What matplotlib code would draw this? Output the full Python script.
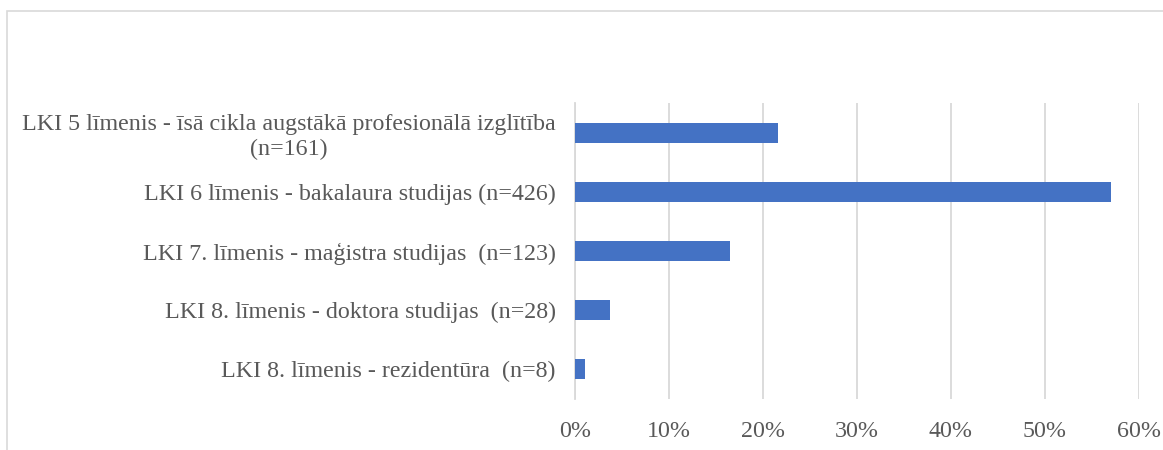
import matplotlib
matplotlib.use("Agg")
import matplotlib.pyplot as plt
from matplotlib.patches import Rectangle
from matplotlib.ticker import PercentFormatter

categories = [
    "LKI 5 līmenis - īsā cikla augstākā profesionālā izglītība\n(n=161)",
    "LKI 6 līmenis - bakalaura studijas (n=426)",
    "LKI 7. līmenis - maģistra studijas  (n=123)",
    "LKI 8. līmenis - doktora studijas  (n=28)",
    "LKI 8. līmenis - rezidentūra  (n=8)",
]
values = [0.216, 0.571, 0.165, 0.0375, 0.0107]
xticks = [0, 0.1, 0.2, 0.3, 0.4, 0.5, 0.6]

plt.rcParams['font.family'] = ['Liberation Serif', 'DejaVu Serif']
text_color = "#595959"
grid_color = "#d9d9d9"

fig = plt.figure(figsize=(11.63, 4.5), dpi=100)
ax = fig.add_axes([575/1163, 1 - 399/450, (1138.7 - 575)/1163, (399 - 103)/450])

y = list(range(len(categories)))
ax.barh(y, values, height=0.34, color="#4472C4", zorder=3)
ax.set_ylim(len(categories) - 0.5, -0.5)
ax.set_yticks(y)
ax.set_yticklabels(categories, fontsize=17.3, color=text_color, multialignment="center",
                   linespacing=1.25)
ax.set_xlim(0, 0.6)
ax.set_xticks(xticks)
ax.xaxis.set_major_formatter(PercentFormatter(1.0, decimals=0))
ax.tick_params(axis="x", length=0, pad=16, labelsize=17.3, labelcolor=text_color)
ax.tick_params(axis="y", length=0, pad=14)
ax.grid(axis="x", color=grid_color, linewidth=1.3, zorder=0)
for s in ["top", "right", "bottom"]:
    ax.spines[s].set_visible(False)
ax.spines["left"].set_color(grid_color)
ax.spines["left"].set_linewidth(1.3)

border = Rectangle((7/1163, -0.5), 1.5, 1.5 - 11/450, transform=fig.transFigure,
                   fill=False, edgecolor=grid_color, linewidth=1.2, clip_on=False)
fig.patches.append(border)

fig.savefig("out.png", dpi=100)
